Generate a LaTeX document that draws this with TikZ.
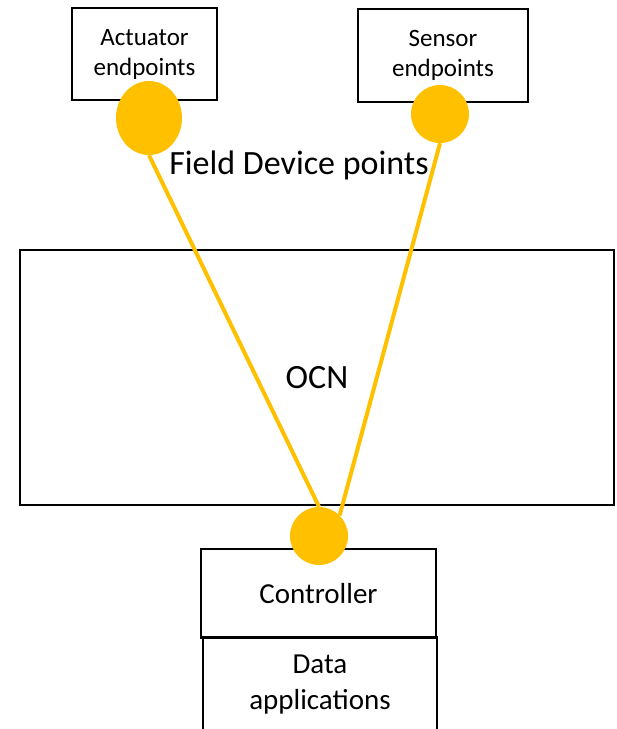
\documentclass[tikz,border=0pt]{standalone}
\usepackage{fontspec}
\setmainfont{Carlito}
\usetikzlibrary{positioning, shapes.geometric}
\definecolor{fieldgold}{RGB}{255, 192, 0}

\begin{document}
\begin{tikzpicture}[x=1pt, y=-1pt,
    box/.style={draw=black, line width=1.5pt, align=center, inner sep=0pt},
    pt/.style={fill=fieldgold, inner sep=0pt},
    link/.style={draw=fieldgold, line width=4pt}]
  \useasboundingbox (0,0) rectangle (617,729);

  % endpoint boxes
  \node[box, minimum width=145pt, minimum height=92pt,
    font=\fontsize{25}{30}\selectfont] (act) at (144.5,54) {Actuator\\endpoints};
  \node[box, minimum width=170pt, minimum height=93pt,
    font=\fontsize{25}{30}\selectfont] (sen) at (443,55.5) {Sensor\\endpoints};

  % network and controller
  \node[box, minimum width=594pt, minimum height=255pt,
    font=\fontsize{34}{40}\selectfont] (ocn) at (317,377.5) {OCN};
  \node[box, minimum width=235pt, minimum height=89pt,
    font=\fontsize{29}{35}\selectfont] (ctrl) at (318.5,593.5) {Controller};
  \node[box, minimum width=234pt, minimum height=96pt,
    font=\fontsize{29}{36}\selectfont] (data) at (320,685) {Data\\applications};

  \node[font=\fontsize{34}{40}\selectfont] (field) at (299,165) {Field Device points};

  % field device points
  \node[pt, ellipse, minimum width=66pt, minimum height=74pt] (act-pt) at (149,118) {};
  \node[pt, circle, minimum size=58pt] (sen-pt) at (440,114) {};
  \node[pt, circle, minimum size=58pt] (ctrl-pt) at (319,536) {};

  \draw[link] (act-pt.south) -- (ctrl-pt.north);
  \draw[link] (sen-pt.south) -- (ctrl-pt.45);
\end{tikzpicture}
\end{document}
